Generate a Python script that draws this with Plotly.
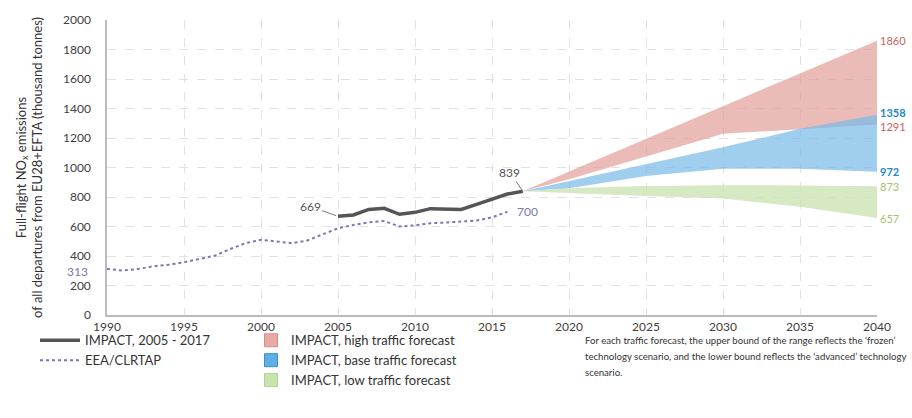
import plotly.graph_objects as go

# ── data ──────────────────────────────────────────────────────────────────────
eea_years = list(range(1990, 2017))
eea_values = [313, 301, 312, 330, 341, 357, 380, 402, 447, 487, 510, 501, 487, 505, 545,
              588, 610, 628, 637, 600, 608, 622, 627, 632, 640, 662, 700]

impact_years = list(range(2005, 2018))
impact_values = [669, 678, 716, 723, 683, 696, 721, 719, 716, 750, 786, 820, 839]

fc_years = [2017, 2020, 2025, 2030, 2035, 2040]
high_upper = [839, 972, 1194, 1416, 1638, 1860]
high_lower = [839, 920, 1075, 1228, 1260, 1291]
base_upper = [839, 908, 1023, 1138, 1262, 1358]
base_lower = [839, 860, 943, 992, 992, 972]
low_upper = [839, 860, 875, 880, 878, 873]
low_lower = [839, 825, 806, 790, 734, 657]

x_ticks = [1990, 1995, 2000, 2005, 2010, 2015, 2020, 2025, 2030, 2035, 2040]
y_ticks = [0, 200, 400, 600, 800, 1000, 1200, 1400, 1600, 1800, 2000]

note_lines = [
    "For each traffic forecast, the upper bound of the range reflects the \u2018frozen\u2019",
    "technology scenario, and the lower bound reflects the \u2018advanced\u2019 technology",
    "scenario.",
]

_FONT = "Lato, sans-serif"
_TEXT = "#404040"
_GRID = "#e2e2e2"
_RED = "#c9625f"
_BLUE = "#1f87c8"
_GREEN = "#a3c270"
_PURPLE = "#7a78b0"

fig = go.Figure()


def band(lower, upper, fill, name, swatch, edge):
    fig.add_trace(go.Scatter(
        x=fc_years, y=lower, mode="lines", line=dict(width=0),
        showlegend=False, hoverinfo="skip",
    ))
    fig.add_trace(go.Scatter(
        x=fc_years, y=upper, mode="lines", line=dict(width=0),
        fill="tonexty", fillcolor=fill, name=name, showlegend=False,
    ))
    # legend swatch only (square, as in the original key)
    fig.add_trace(go.Scatter(
        x=[None], y=[None], mode="markers", name=name, legend="legend2",
        marker=dict(symbol="square", size=13, color=swatch,
                    line=dict(color=edge, width=1)),
    ))


band(high_lower, high_upper, "rgba(224,150,145,0.65)", "IMPACT, high traffic forecast",
     "#e9aaa6", "#d98b87")
band(base_lower, base_upper, "rgba(120,185,232,0.70)", "IMPACT, base traffic forecast",
     "#5cb0e6", "#3a8fcc")
band(low_lower, low_upper, "rgba(200,225,175,0.75)", "IMPACT, low traffic forecast",
     "#c8e3ac", "#b1d38f")

fig.add_trace(go.Scatter(
    x=impact_years, y=impact_values, mode="lines",
    line=dict(color="#555555", width=3.5),
    name="IMPACT, 2005 - 2017",
))
fig.add_trace(go.Scatter(
    x=eea_years, y=eea_values, mode="lines",
    line=dict(color=_PURPLE, width=2, dash="dot"),
    name="EEA/CLRTAP",
))

# ── value labels ──────────────────────────────────────────────────────────────
fig.add_annotation(x=eea_years[0], y=eea_values[0], text=str(eea_values[0]),
                   showarrow=False, xanchor="right", xshift=-17, yshift=-3,
                   font=dict(color=_PURPLE, size=12))
fig.add_annotation(x=eea_years[-1], y=eea_values[-1], text=str(eea_values[-1]),
                   showarrow=False, xanchor="left", xshift=8,
                   font=dict(color=_PURPLE, size=12))
fig.add_annotation(x=impact_years[0], y=impact_values[0], text=str(impact_values[0]),
                   showarrow=True, arrowhead=0, arrowwidth=1, arrowcolor="#777777",
                   ax=-28, ay=-10, standoff=2,
                   font=dict(color="#555555", size=12))
fig.add_annotation(x=impact_years[-1], y=impact_values[-1], text=str(impact_values[-1]),
                   showarrow=True, arrowhead=0, arrowwidth=1, arrowcolor="#777777",
                   ax=-13, ay=-19, standoff=2,
                   font=dict(color="#555555", size=12))

# end-of-range labels; the 1358/1291 pair sits very close, nudge them apart a touch
for vals, col, bold, nudge in [(high_upper, _RED, False, 0), (base_upper, _BLUE, True, 2),
                               (high_lower, _RED, False, -2), (base_lower, _BLUE, True, 0),
                               (low_upper, _GREEN, False, 0), (low_lower, _GREEN, False, 0)]:
    txt = f"<b>{vals[-1]}</b>" if bold else str(vals[-1])
    fig.add_annotation(x=fc_years[-1], y=vals[-1], text=txt, showarrow=False,
                       xanchor="left", xshift=1, yshift=nudge,
                       font=dict(color=col, size=11))

# footnote, one annotation per line to get the original's looser line spacing
for i, line in enumerate(note_lines):
    fig.add_annotation(
        x=0.618, y=-0.06, xref="paper", yref="paper", xanchor="left", yanchor="top",
        yshift=-16 * i, align="left", showarrow=False, text=line,
        font=dict(size=9.6, color="#333333"),
    )

fig.update_layout(
    width=912, height=418,
    paper_bgcolor="white", plot_bgcolor="white",
    font=dict(family=_FONT, color=_TEXT, size=12),
    margin=dict(l=107, r=35, t=17, b=103),
    showlegend=True,
    legend=dict(x=-0.0935, y=-0.035, xanchor="left", yanchor="top",
                bgcolor="rgba(0,0,0,0)", font=dict(size=13, color="#333333"),
                tracegroupgap=0, itemwidth=40, traceorder="normal"),
    legend2=dict(x=0.187, y=-0.035, xanchor="left", yanchor="top",
                 bgcolor="rgba(0,0,0,0)", font=dict(size=13, color="#333333"),
                 tracegroupgap=0, traceorder="normal"),
    xaxis=dict(range=[1990, 2040], tickvals=x_ticks, showgrid=True,
               gridcolor=_GRID, griddash="dash", zeroline=False,
               showline=True, linecolor="#bbbbbb", linewidth=1.5,
               tickfont=dict(size=12, color=_TEXT)),
    yaxis=dict(range=[0, 2000], tickvals=y_ticks, showgrid=True,
               gridcolor=_GRID, griddash="dash", zeroline=False,
               showline=True, linecolor="#bbbbbb", linewidth=1.5,
               ticklabelstandoff=12, tickfont=dict(size=12, color=_TEXT),
               title=dict(text="Full-flight NO<sub>x</sub> emissions<br>"
                               "of all departures from EU28+EFTA (thousand tonnes)",
                          font=dict(size=13, color="#333333"), standoff=17)),
)

# drop the default 8px body margin so the 912x418 figure fills the window exactly
fig.write_html("out.html", config={"displayModeBar": False},
               post_script="document.body.style.margin='0';")
